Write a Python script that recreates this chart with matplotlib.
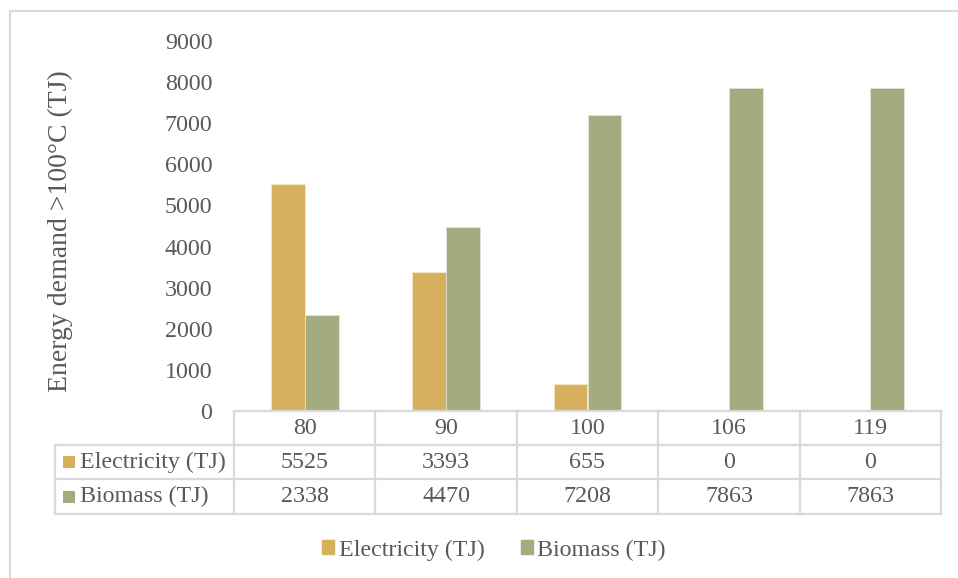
import matplotlib
matplotlib.use("Agg")
import matplotlib.pyplot as plt
from matplotlib.lines import Line2D
from matplotlib.patches import Rectangle
from matplotlib.transforms import blended_transform_factory

# Data
temperatures = ["80", "90", "100", "106", "119"]
electricity = [5525, 3393, 655, 0, 0]
biomass = [2338, 4470, 7208, 7863, 7863]
series_names = ["Electricity (TJ)", "Biomass (TJ)"]
y_ticks = [0, 1000, 2000, 3000, 4000, 5000, 6000, 7000, 8000, 9000]

C_ELEC = "#D6B05C"
C_BIO = "#A3AB7F"
TEXT = "#595959"
GRID = "#D9D9D9"
FS = 17.3

plt.rcParams["font.family"] = ["Liberation Serif", "DejaVu Serif"]

W, H = 958, 578
fig = plt.figure(figsize=(W / 100, H / 100), dpi=100)

def fx(px):
    return px / W

def fy(py):
    return 1 - py / H

# Plot area
ax_l, ax_r, ax_t, ax_b = 234, 941, 41, 411
ax = fig.add_axes([fx(ax_l), fy(ax_b), fx(ax_r - ax_l), (ax_b - ax_t) / H])
x = list(range(len(temperatures)))
bw = 0.24
ax.bar([i - bw / 2 for i in x], electricity, width=bw, color=C_ELEC,
       edgecolor="#F4E8CC", linewidth=0.6)
ax.bar([i + bw / 2 for i in x], biomass, width=bw, color=C_BIO,
       edgecolor="#E2E5D6", linewidth=0.6)
ax.set_xlim(-0.5, len(x) - 0.5)
ax.set_ylim(0, 9000)
ax.set_yticks(y_ticks)
ax.set_yticklabels([str(v) for v in y_ticks])
ax.tick_params(axis="y", length=0, pad=15.5, labelsize=FS, labelcolor=TEXT)
ax.set_xticks([])
for s in ax.spines.values():
    s.set_visible(False)

# Y-axis title
fig.text(fx(60), fy(231), "Energy demand >100°C (TJ)", rotation=90,
         ha="center", va="center", fontsize=20, color=TEXT)

# Data table under the plot
tr = blended_transform_factory(ax.transData, fig.transFigure)
row_y = [411, 445, 479, 514]
lw = 1.6
left_px = 55
# horizontal lines
fig.add_artist(Line2D([-0.5, 4.5], [fy(row_y[0])] * 2, transform=tr,
                      color=GRID, lw=lw))
for ry in row_y[1:]:
    fig.add_artist(Line2D([fx(left_px), fx(ax_r)], [fy(ry)] * 2,
                          transform=fig.transFigure, color=GRID, lw=lw))
# vertical lines
fig.add_artist(Line2D([fx(left_px)] * 2, [fy(row_y[1]), fy(row_y[3])],
                      transform=fig.transFigure, color=GRID, lw=lw))
for b in range(len(x) + 1):
    fig.add_artist(Line2D([b - 0.5] * 2, [fy(row_y[0]), fy(row_y[3])],
                          transform=tr, color=GRID, lw=lw))

# table contents
for i, t in enumerate(temperatures):
    fig.text(i, fy((row_y[0] + row_y[1]) / 2), t, transform=tr,
             ha="center", va="center", fontsize=FS, color=TEXT)
    fig.text(i, fy((row_y[1] + row_y[2]) / 2), str(electricity[i]), transform=tr,
             ha="center", va="center", fontsize=FS, color=TEXT)
    fig.text(i, fy((row_y[2] + row_y[3]) / 2), str(biomass[i]), transform=tr,
             ha="center", va="center", fontsize=FS, color=TEXT)

for r, (name, col) in enumerate(zip(series_names, [C_ELEC, C_BIO])):
    cy = (row_y[r + 1] + row_y[r + 2]) / 2
    fig.add_artist(Rectangle((fx(63), fy(cy + 6)), fx(12), 12 / H,
                             transform=fig.transFigure, color=col, lw=0))
    fig.text(fx(80), fy(cy), name, ha="left", va="center",
             fontsize=FS, color=TEXT)

# Legend
handles = [Rectangle((0, 0), 1, 1, color=C_ELEC), Rectangle((0, 0), 1, 1, color=C_BIO)]
fig.legend(handles, series_names, loc="center", bbox_to_anchor=(fx(494), fy(550)),
           ncol=2, frameon=False, fontsize=FS, labelcolor=TEXT,
           handlelength=0.5, handleheight=0.5, handletextpad=0.2,
           columnspacing=1.5)

# Outer chart border
fig.add_artist(Line2D([fx(10), 1], [fy(11)] * 2, transform=fig.transFigure,
                      color=GRID, lw=1.5))
fig.add_artist(Line2D([fx(10)] * 2, [0, fy(11)], transform=fig.transFigure,
                      color=GRID, lw=1.5))

fig.savefig("out.png", dpi=100)
